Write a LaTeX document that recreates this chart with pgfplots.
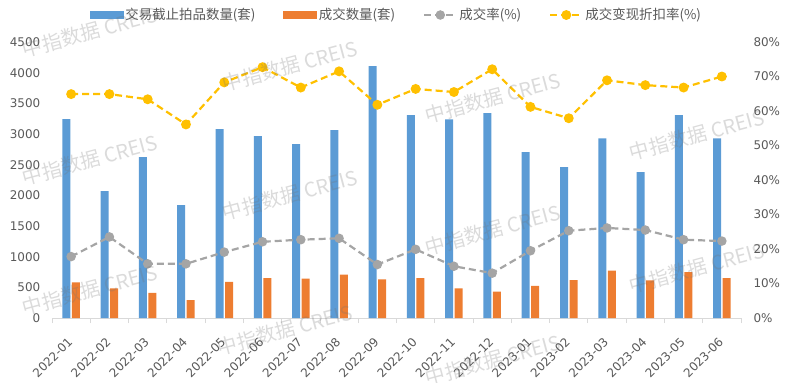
\documentclass[border=0pt]{standalone}
\usepackage{pgfplots}
\pgfplotsset{compat=1.18}
\usepackage{pgfplotstable}
\usepackage{fontspec}
\setmainfont{DejaVu Sans}
\newfontfamily\cjk{Noto Sans CJK SC}
\definecolor{cblue}{HTML}{5B9BD5}
\definecolor{corange}{HTML}{ED7D31}
\definecolor{cgray}{HTML}{A5A5A5}
\definecolor{cyellow}{HTML}{FFC000}
\definecolor{txt}{HTML}{595959}
\definecolor{axl}{HTML}{D9D9D9}

\pgfplotstableread{
i  blue  orange rate disc
0  3244  582  17.8  64.9
1  2070  484  23.5  64.9
2  2624  408  15.7  63.4
3  1842  293  15.7  56.1
4  3081  587  19.1  68.3
5  2967  652  22.1  72.7
6  2836  641  22.7  66.8
7  3065  706  23.1  71.5
8  4108  630  15.5  61.8
9  3309  652  19.9  66.4
10 3239  484  15.0  65.5
11 3342  429  13.0  72.1
12 2706  522  19.5  61.2
13 2461  619  25.3  57.9
14 2929  771  26.1  68.9
15 2380  614  25.5  67.5
16 3309  750  22.7  66.8
17 2929  652  22.3  70.0
}\data

\pgfplotsset{
  base/.style={
    at={(0,0)}, anchor=south west,
    scale only axis, width=689bp, height=276bp,
    xmin=-0.5, xmax=17.5,
    /pgf/number format/assume math mode=true,
    /pgf/number format/set thousands separator={},
    tick label style={text=txt, font=\fontsize{12}{12}\selectfont},
  },
  linelegend/.style={legend image code/.code={\draw[mark repeat=2,mark phase=2,##1] plot coordinates {(0bp,0bp) (16bp,0bp) (32bp,0bp)};}},
}
\tikzset{wm/.style={rotate=15, text=black!55, opacity=0.26, font=\cjk\fontsize{20}{20}\selectfont}}

\begin{document}
\begin{tikzpicture}
\begin{axis}[base,
  ymin=0, ymax=4500,
  ybar=1.5bp, bar width=8bp,
  axis x line*=bottom, axis y line*=left,
  x axis line style={axl, line width=0.8bp, -},
  y axis line style={draw=none},
  xtick={0,...,17},
  xticklabels={2022-01,2022-02,2022-03,2022-04,2022-05,2022-06,2022-07,2022-08,2022-09,2022-10,2022-11,2022-12,2023-01,2023-02,2023-03,2023-04,2023-05,2023-06},
  major x tick style={draw=none},
  minor xtick={-0.5,0.5,...,17.5},
  minor x tick style={axl, line width=0.8bp},
  minor tick length=5bp, tick align=outside,
  xticklabel style={xshift=1.5bp, yshift=-15bp, rotate=45, anchor=east},
  ytick={0,500,...,4500},
  ytick style={draw=none},
  yticklabel style={xshift=-4bp},
]
\addplot[fill=cblue, draw=none] table[x=i, y=blue] {\data};
\addplot[fill=corange, draw=none] table[x=i, y=orange] {\data};
\end{axis}
\begin{axis}[base,
  ymin=0, ymax=80,
  axis x line=none, axis y line*=right,
  y axis line style={draw=none},
  ytick={0,10,...,80},
  ytick style={draw=none},
  yticklabel={\pgfmathprintnumber{\tick}\%},
  yticklabel style={xshift=9bp},
  legend columns=4,
  legend style={at={(0.5,1)}, anchor=center, yshift=27bp, draw=none, fill=none,
    font=\cjk\fontsize{13.5}{13.5}\selectfont, text=txt,
    /tikz/every even column/.append style={column sep=26bp}},
]
\addlegendimage{legend image code/.code={\fill[cblue] (0bp,-3.5bp) rectangle (33bp,3.5bp);}}
\addlegendentry{交易截止拍品数量(套)}
\addlegendimage{legend image code/.code={\fill[corange] (0bp,-3.5bp) rectangle (33bp,3.5bp);}}
\addlegendentry{成交数量(套)}
\addplot[cgray, line width=2.2bp, dash pattern=on 7bp off 4bp, mark=*, mark size=3.6bp, mark options={solid, fill=cgray, draw=cgray}, linelegend]
  table[x=i, y=rate] {\data};
\addlegendentry{成交率(\%)}
\addplot[cyellow, line width=2.2bp, dash pattern=on 7bp off 4bp, mark=*, mark size=3.8bp, mark options={solid, fill=cyellow, draw=cyellow}, linelegend]
  table[x=i, y=disc] {\data};
\addlegendentry{成交变现折扣率(\%)}
\end{axis}
% watermarks (image px -> (px-52, 318-py))
\foreach \px/\py in {90/32, 90/160, 90/290, 290/66, 290/195, 285/330, 493/98, 493/230, 493/360, 697/135, 697/268}{
  \node[wm] at ({(\px-52)*1bp}, {(318-\py)*1bp}) {中指数据 CREIS};
}
\pgfresetboundingbox
\useasboundingbox (-52bp,-65bp) rectangle (738bp,318bp);
\end{tikzpicture}
\end{document}
